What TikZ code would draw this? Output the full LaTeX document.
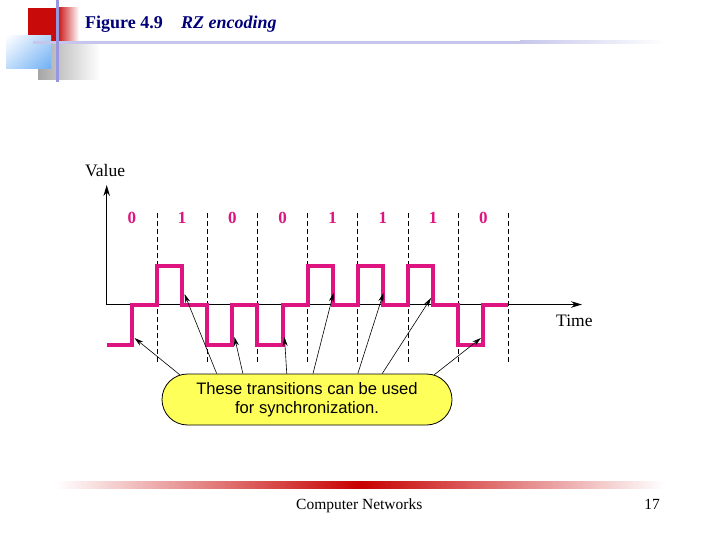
\documentclass[tikz,border=0pt]{standalone}
\usepackage{fontspec}
\setmainfont{Liberation Serif}
\newfontfamily\calloutfont{Liberation Sans}
\usepackage{tikz}
\usetikzlibrary{arrows.meta,shapes.misc,shadings}
\usepackage{xcolor}
\definecolor{sigmag}{RGB}{222,20,128}
\definecolor{titleblue}{RGB}{0,0,120}
\definecolor{calloutyellow}{RGB}{255,255,90}
\definecolor{lineblue}{RGB}{150,150,225}
\definecolor{lavender}{RGB}{198,198,236}
\definecolor{headred}{RGB}{200,10,10}
\definecolor{skyblue}{RGB}{110,175,245}
\definecolor{footred}{RGB}{200,0,0}

\begin{document}
\begin{tikzpicture}[x=1pt, y=-1pt,
  every node/.style={inner sep=0pt},
  bitlabel/.style={font=\fontsize{17}{20}\selectfont\bfseries, text=sigmag},
  axislabel/.style={font=\fontsize{17.5}{20}\selectfont, anchor=base west},
  slot/.style={draw=black, line width=0.8pt, dash pattern=on 5pt off 3pt},
  syncarrow/.style={-{Stealth[length=9pt,width=5pt]}, draw=black, line width=0.6pt}]
\useasboundingbox (0,0) rectangle (720,540);

% slide header
\shade[left color=black!35, right color=white] (38,45) rectangle (100,80);
\fill[headred] (28,8) rectangle (57,41);
\shade[left color=headred, right color=white] (57,8) rectangle (79,41);
\shade[upper left=white, upper right=skyblue!55, lower left=skyblue!45, lower right=skyblue] (6,36) rectangle (51,69);
\fill[lavender] (33,41) rectangle (520,44);
\shade[left color=lavender, right color=white] (520,41) rectangle (665,44);
\fill[lineblue] (55.8,0) rectangle (58.6,82);
\node[anchor=base west, font=\fontsize{18}{21}\selectfont\bfseries, text=titleblue] (figno) at (85,28.3) {Figure 4.9};
\node[anchor=base west, font=\fontsize{18}{21}\selectfont\bfseries\itshape, text=titleblue] (figtitle) at (181,28.3) {RZ encoding};

% axes
\coordinate (origin) at (106.7,304.5);
\coordinate (vtop) at (106.7,185);
\coordinate (tend) at (582,304.5);
\draw[-{Stealth[length=11pt,width=6.5pt]}, line width=1.1pt] (origin) -- (vtop);
\draw[-{Stealth[length=11pt,width=6.5pt]}, line width=1.1pt] (origin) -- (tend);
\node[axislabel] (value) at (85,176.7) {Value};
\node[axislabel] (time) at (556,326.7) {Time};

% bit slots
\draw[slot] (157.0,213) -- (157.0,362);
\draw[slot] (207.2,213) -- (207.2,362);
\draw[slot] (257.4,213) -- (257.4,362);
\draw[slot] (307.6,213) -- (307.6,362);
\draw[slot] (357.8,213) -- (357.8,362);
\draw[slot] (408.0,213) -- (408.0,362);
\draw[slot] (458.2,213) -- (458.2,362);
\draw[slot] (508.4,213) -- (508.4,362);

\node[bitlabel] (bit0) at (131.9,217.5) {0};
\node[bitlabel] (bit1) at (182.1,217.5) {1};
\node[bitlabel] (bit2) at (232.3,217.5) {0};
\node[bitlabel] (bit3) at (282.5,217.5) {0};
\node[bitlabel] (bit4) at (332.7,217.5) {1};
\node[bitlabel] (bit5) at (382.9,217.5) {1};
\node[bitlabel] (bit6) at (433.1,217.5) {1};
\node[bitlabel] (bit7) at (483.3,217.5) {0};

% RZ signal
\draw[sigmag, line width=4pt, line join=miter]
  (106.8,344.5) -- (131.9,344.5) -- (131.9,304.5) -- (157.0,304.5)
  -- (157.0,265.5) -- (182.1,265.5) -- (182.1,304.5) -- (207.2,304.5)
  -- (207.2,344.5) -- (232.3,344.5) -- (232.3,304.5) -- (257.4,304.5)
  -- (257.4,344.5) -- (282.5,344.5) -- (282.5,304.5) -- (307.6,304.5)
  -- (307.6,265.5) -- (332.7,265.5) -- (332.7,304.5) -- (357.8,304.5)
  -- (357.8,265.5) -- (382.9,265.5) -- (382.9,304.5) -- (408.0,304.5)
  -- (408.0,265.5) -- (433.1,265.5) -- (433.1,304.5) -- (458.2,304.5)
  -- (458.2,344.5) -- (483.3,344.5) -- (483.3,304.5) -- (508.4,304.5);

% transitions pointed at
\coordinate (tr1) at (134.5,338);
\coordinate (tr2) at (184.5,294);
\coordinate (tr3) at (234.5,337);
\coordinate (tr4) at (284.5,337);
\coordinate (tr5) at (333.5,293);
\coordinate (tr6) at (383.5,293);
\coordinate (tr7) at (431,298);
\coordinate (tr8) at (481,338);

\node[rounded rectangle, draw=black, line width=0.8pt, fill=calloutyellow,
  minimum width=290pt, minimum height=51pt, align=center,
  font=\calloutfont\fontsize{16.6}{19.5}\selectfont] (callout) at (307,399.5)
  {These transitions can be used\\for synchronization.};
\draw[syncarrow] (callout.169) -- (tr1);
\draw[syncarrow] (callout.164) -- (tr2);
\draw[syncarrow] (callout.158) -- (tr3);
\draw[syncarrow] (callout.128) -- (tr4);
\draw[syncarrow] (callout.77) -- (tr5);
\draw[syncarrow] (callout.27) -- (tr6);
\draw[syncarrow] (callout.19) -- (tr7);
\draw[syncarrow] (callout.11) -- (tr8);

% slide footer
\shade[left color=white, right color=footred] (56,481) rectangle (360,488);
\shade[left color=footred, right color=white] (360,481) rectangle (664,488);
\node[anchor=base west, font=\fontsize{15.5}{18}\selectfont] (course) at (296,509) {Computer Networks};
\node[anchor=base east, font=\fontsize{15.5}{18}\selectfont] (pageno) at (660,509) {17};
\end{tikzpicture}
\end{document}
